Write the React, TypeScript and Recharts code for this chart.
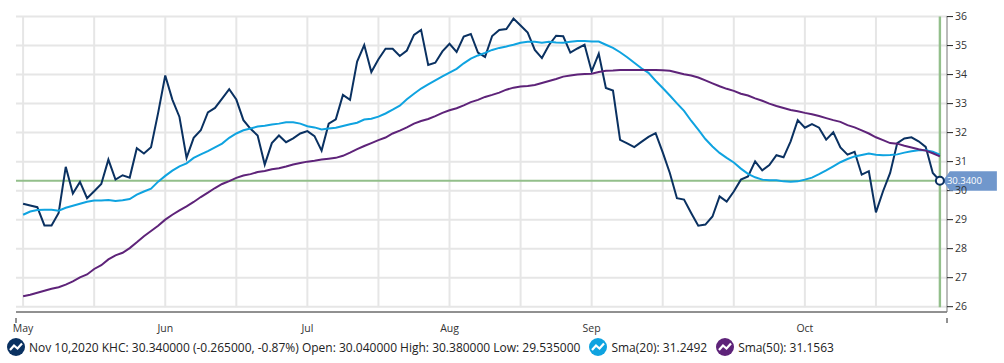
import React from "react";
import {
  LineChart,
  Line,
  XAxis,
  YAxis,
  ReferenceLine,
  ReferenceDot,
} from "recharts";

const kraft = [
  29.55, 29.49, 29.43, 28.8, 28.8, 29.23, 30.82, 29.9, 30.3, 29.74, 29.98, 30.23, 31.07, 30.38, 30.53, 30.45, 31.46, 31.28, 31.5, 32.68,
  33.97, 33.14, 32.54, 31.13, 31.82, 32.08, 32.7, 32.85, 33.17, 33.5, 33.14, 32.43, 32.13, 31.9, 30.9, 31.64, 31.9, 31.67, 31.8, 31.97,
  32.05, 31.88, 31.38, 32.31, 32.46, 33.3, 33.13, 34.45, 35.02, 34.09, 34.53, 34.89, 34.89, 34.64, 34.83, 35.37, 35.54, 34.33, 34.41, 34.8,
  35.06, 34.78, 35.31, 35.4, 34.76, 34.61, 35.33, 35.54, 35.57, 35.93, 35.69, 35.45, 34.85, 34.57, 35.02, 35.34, 35.32, 34.76, 34.9, 35.03,
  34.11, 34.72, 33.54, 33.45, 31.75, 31.63, 31.5, 31.68, 31.85, 31.98, 31.32, 30.61, 29.74, 29.69, 29.23, 28.79, 28.83, 29.11, 29.8, 29.62,
  29.97, 30.38, 30.49, 31.01, 30.7, 30.88, 31.22, 31.15, 31.7, 32.43, 32.17, 32.29, 32.17, 31.76, 32.01, 31.49, 31.24, 31.34, 30.55, 30.67,
  29.25, 29.98, 30.61, 31.64, 31.8, 31.84, 31.7, 31.51, 30.61, 30.34,
];

const sma20 = [
  29.17, 29.28, 29.33, 29.34, 29.34, 29.31, 29.41, 29.48, 29.55, 29.62, 29.66, 29.66, 29.68, 29.64, 29.67, 29.71, 29.86, 29.97, 30.07, 30.31,
  30.51, 30.69, 30.84, 30.94, 31.13, 31.25, 31.36, 31.49, 31.62, 31.82, 31.97, 32.08, 32.14, 32.21, 32.24, 32.28, 32.31, 32.36, 32.36, 32.31,
  32.22, 32.18, 32.11, 32.14, 32.17, 32.23, 32.29, 32.34, 32.45, 32.48, 32.55, 32.66, 32.79, 32.93, 33.15, 33.34, 33.52, 33.66, 33.8, 33.94,
  34.07, 34.2, 34.39, 34.55, 34.66, 34.75, 34.85, 34.92, 34.97, 35.03, 35.1, 35.13, 35.13, 35.1, 35.13, 35.11, 35.1, 35.13, 35.16, 35.16,
  35.14, 35.14, 35.03, 34.92, 34.77, 34.6, 34.41, 34.22, 34.06, 33.79, 33.54, 33.28, 33.01, 32.75, 32.41, 32.1, 31.78, 31.52, 31.3, 31.13,
  30.97, 30.76, 30.58, 30.46, 30.38, 30.36, 30.36, 30.32, 30.31, 30.32, 30.38, 30.45, 30.57, 30.7, 30.84, 30.98, 31.09, 31.18, 31.23, 31.28,
  31.24, 31.22, 31.23, 31.25, 31.31, 31.36, 31.39, 31.39, 31.34, 31.24,
];

const sma50 = [
  26.36, 26.41, 26.48, 26.55, 26.62, 26.67, 26.76, 26.87, 27.01, 27.11, 27.3, 27.43, 27.63, 27.77, 27.86, 28.02, 28.22, 28.43, 28.61, 28.79,
  29.0, 29.17, 29.32, 29.46, 29.61, 29.78, 29.93, 30.09, 30.23, 30.33, 30.44, 30.52, 30.57, 30.64, 30.68, 30.74, 30.77, 30.83, 30.9, 30.95,
  31.0, 31.03, 31.07, 31.1, 31.13, 31.2, 31.31, 31.43, 31.54, 31.64, 31.74, 31.83, 31.97, 32.07, 32.18, 32.31, 32.4, 32.47, 32.57, 32.68,
  32.77, 32.84, 32.94, 33.05, 33.13, 33.23, 33.3, 33.38, 33.48, 33.55, 33.59, 33.61, 33.64, 33.71, 33.78, 33.85, 33.93, 33.97, 34.0, 34.02,
  34.03, 34.09, 34.13, 34.14, 34.16, 34.16, 34.16, 34.16, 34.16, 34.16, 34.15, 34.13, 34.07, 34.01, 33.97, 33.9, 33.8, 33.7, 33.6, 33.51,
  33.44, 33.34, 33.28, 33.18, 33.1, 33.0, 32.92, 32.85, 32.78, 32.74, 32.68, 32.63, 32.57, 32.5, 32.43, 32.37, 32.26, 32.18, 32.08, 31.97,
  31.84, 31.74, 31.64, 31.62, 31.55, 31.49, 31.43, 31.38, 31.29, 31.18,
];

const rows = kraft.map((close, i) => ({ i, close, s20: sma20[i], s50: sma50[i] }));

const gridX = [0, 10, 20, 30, 40, 50, 60, 70, 80, 90, 100, 110, 120];
const axisEnds = [-1, 130];
const monthTicks = [0, 20, 40, 60, 80, 110];
const monthNames: Record<number, string> = { 0: "May", 20: "Jun", 40: "Jul", 60: "Aug", 80: "Sep", 110: "Oct" };
const priceTicks = [26, 27, 28, 29, 30, 31, 32, 33, 34, 35, 36];
const lastIndex = 129;
const lastPrice = 30.34;
const lastLabel = "30.3400";
const legendPrice = "Nov 10,2020 KHC: 30.340000 (-0.265000, -0.87%) Open: 30.040000 High: 30.380000 Low: 29.535000";
const legendSma20 = "Sma(20): 31.2492";
const legendSma50 = "Sma(50): 31.1563";

const FONT = "'Open Sans', sans-serif";
const C_PRICE = "#0a3161";
const C_S20 = "#0fa3e0";
const C_S50 = "#5e2379";
const C_GRID = "#e6e6e6";
const C_CROSS = "#93bf8b";

const Icon = ({ color }: { color: string }) => (
  <svg width={18} height={18} viewBox="0 0 18 18" style={{ flex: "none" }}>
    <circle cx={9} cy={9} r={9} fill={color} />
    <polyline points="3,12 7,7.5 10.5,10.5 15,5.5" fill="none" stroke="#fff" strokeWidth={2.2} />
  </svg>
);

const Marker = (p: any) => {
  const { cx, cy } = p;
  return (
    <g>
      <path
        d={`M${cx + 3} ${cy} L${cx + 10} ${cy - 9.5} H${cx + 57} V${cy + 10} H${cx + 10} Z`}
        fill="#7097cc"
      />
      <text x={cx + 7} y={cy + 3.5} fontSize={9.5} fontFamily={FONT} fill="#fff">
        {lastLabel}
      </text>
      <circle cx={cx} cy={cy} r={4} fill="#fff" stroke={C_PRICE} strokeWidth={2} />
    </g>
  );
};

const MonthTick = (p: any) => {
  const { x, y, payload } = p;
  if (axisEnds.includes(payload.value)) {
    return <line x1={x} x2={x} y1={y} y2={y + 5} stroke="#222" strokeWidth={1} />;
  }
  return (
    <text x={x} y={y + 14} textAnchor="middle" fontSize={10.5} fontFamily={FONT} fill="#333">
      {monthNames[payload.value]}
    </text>
  );
};

export default function App() {
  return (
    <div style={{ position: "absolute", left: 0, top: 0, width: 1004, height: 363, background: "#fff" }}>
      <LineChart width={1004} height={340} data={rows} margin={{ top: 16, right: 0, bottom: 0, left: 16 }}>
        <XAxis
          type="number"
          dataKey="i"
          domain={[-1, 130]}
          ticks={[...axisEnds, ...monthTicks]}
          tick={<MonthTick />}
          tickLine={false}
          axisLine={{ stroke: "#222", strokeWidth: 1 }}
          allowDataOverflow
          height={28}
          interval={0}
          tickMargin={0}
        />
        <YAxis
          orientation="right"
          type="number"
          domain={[25.817, 36.02]}
          ticks={priceTicks}
          tick={{ fontSize: 10.5, fontFamily: FONT, fill: "#333" }}
          tickLine={{ stroke: "#222" }}
          tickSize={6}
          tickMargin={2}
          axisLine={{ stroke: "#777", strokeWidth: 1 }}
          allowDataOverflow
          width={57}
          interval={0}
        />
        {priceTicks.map((v) => (
          <ReferenceLine key={`h${v}`} y={v} stroke={C_GRID} strokeWidth={2} />
        ))}
        {gridX.map((x) => (
          <ReferenceLine
            key={`v${x}`}
            segment={[
              { x, y: 25.98 },
              { x, y: 36 },
            ]}
            stroke={C_GRID}
            strokeWidth={2}
          />
        ))}
        <ReferenceLine y={lastPrice} stroke={C_CROSS} strokeWidth={2} />
        <ReferenceLine
          segment={[
            { x: lastIndex, y: 25.98 },
            { x: lastIndex, y: 36 },
          ]}
          stroke={C_CROSS}
          strokeWidth={2.4}
        />
        <Line dataKey="close" stroke={C_PRICE} strokeWidth={2} dot={false} type="linear" isAnimationActive={false} />
        <Line dataKey="s20" stroke={C_S20} strokeWidth={2} dot={false} type="linear" isAnimationActive={false} />
        <Line dataKey="s50" stroke={C_S50} strokeWidth={2} dot={false} type="linear" isAnimationActive={false} />
        <ReferenceDot x={lastIndex} y={lastPrice} r={4} shape={<Marker />} />
      </LineChart>
      <div
        style={{
          position: "absolute",
          left: 7,
          top: 337,
          display: "flex",
          alignItems: "center",
          fontFamily: FONT,
          fontSize: 12,
          color: "#222",
          whiteSpace: "nowrap",
          height: 20,
        }}
      >
        <Icon color={C_PRICE} />
        <span style={{ marginLeft: 4 }}>{legendPrice}</span>
        <span style={{ width: 9 }} />
        <Icon color={C_S20} />
        <span style={{ marginLeft: 4 }}>{legendSma20}</span>
        <span style={{ width: 9 }} />
        <Icon color={C_S50} />
        <span style={{ marginLeft: 4 }}>{legendSma50}</span>
      </div>
    </div>
  );
}
